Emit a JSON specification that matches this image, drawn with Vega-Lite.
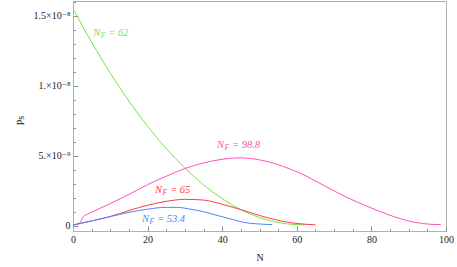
{
  "$schema": "https://vega.github.io/schema/vega-lite/v6.json",
  "width": 373,
  "height": 230,
  "autosize": "none",
  "padding": {"left": 73, "top": 1, "right": 11, "bottom": 36},
  "background": "white",
  "config": {
    "view": {"stroke": "#b0b0b0", "strokeWidth": 1},
    "axis": {
      "labelFont": "Liberation Serif, Times New Roman, DejaVu Serif, serif",
      "titleFont": "Liberation Serif, Times New Roman, DejaVu Serif, serif",
      "labelFontSize": 10,
      "titleFontSize": 10,
      "titleFontWeight": "normal",
      "labelColor": "#222222",
      "titleColor": "#222222",
      "domainColor": "#b0b0b0",
      "tickColor": "#909090",
      "grid": false
    }
  },
  "datasets": {
    "curves": [
      {"N": 0, "Ps": 1.55e-8, "s": "g"},
      {"N": 2.5, "Ps": 1.428e-8, "s": "g"},
      {"N": 5, "Ps": 1.31e-8, "s": "g"},
      {"N": 7.5, "Ps": 1.198e-8, "s": "g"},
      {"N": 10, "Ps": 1.09e-8, "s": "g"},
      {"N": 12.5, "Ps": 9.88e-9, "s": "g"},
      {"N": 15, "Ps": 8.91e-9, "s": "g"},
      {"N": 17.5, "Ps": 7.98e-9, "s": "g"},
      {"N": 20, "Ps": 7.11e-9, "s": "g"},
      {"N": 22.5, "Ps": 6.29e-9, "s": "g"},
      {"N": 25, "Ps": 5.52e-9, "s": "g"},
      {"N": 27.5, "Ps": 4.8e-9, "s": "g"},
      {"N": 30, "Ps": 4.13e-9, "s": "g"},
      {"N": 32.5, "Ps": 3.51e-9, "s": "g"},
      {"N": 35, "Ps": 2.94e-9, "s": "g"},
      {"N": 37.5, "Ps": 2.42e-9, "s": "g"},
      {"N": 40, "Ps": 1.95e-9, "s": "g"},
      {"N": 42.5, "Ps": 1.53e-9, "s": "g"},
      {"N": 45, "Ps": 1.17e-9, "s": "g"},
      {"N": 47.5, "Ps": 8.6e-10, "s": "g"},
      {"N": 50, "Ps": 6e-10, "s": "g"},
      {"N": 52.5, "Ps": 3.9e-10, "s": "g"},
      {"N": 55, "Ps": 2.5e-10, "s": "g"},
      {"N": 57.5, "Ps": 1.5e-10, "s": "g"},
      {"N": 60, "Ps": 1e-10, "s": "g"},
      {"N": 62, "Ps": 8e-11, "s": "g"},

      {"N": 0, "Ps": 7e-11, "s": "p"},
      {"N": 1.5, "Ps": 1.5e-10, "s": "p"},
      {"N": 2.2, "Ps": 4e-10, "s": "p"},
      {"N": 2.8, "Ps": 6.8e-10, "s": "p"},
      {"N": 4, "Ps": 8.5e-10, "s": "p"},
      {"N": 10, "Ps": 1.6e-9, "s": "p"},
      {"N": 15, "Ps": 2.25e-9, "s": "p"},
      {"N": 20, "Ps": 2.95e-9, "s": "p"},
      {"N": 25, "Ps": 3.55e-9, "s": "p"},
      {"N": 30, "Ps": 4.1e-9, "s": "p"},
      {"N": 35, "Ps": 4.5e-9, "s": "p"},
      {"N": 40, "Ps": 4.76e-9, "s": "p"},
      {"N": 44.5, "Ps": 4.86e-9, "s": "p"},
      {"N": 50, "Ps": 4.72e-9, "s": "p"},
      {"N": 55, "Ps": 4.38e-9, "s": "p"},
      {"N": 58, "Ps": 4.08e-9, "s": "p"},
      {"N": 61, "Ps": 3.76e-9, "s": "p"},
      {"N": 64, "Ps": 3.35e-9, "s": "p"},
      {"N": 67, "Ps": 2.93e-9, "s": "p"},
      {"N": 70, "Ps": 2.5e-9, "s": "p"},
      {"N": 73, "Ps": 2.1e-9, "s": "p"},
      {"N": 76, "Ps": 1.73e-9, "s": "p"},
      {"N": 80, "Ps": 1.28e-9, "s": "p"},
      {"N": 84, "Ps": 8.6e-10, "s": "p"},
      {"N": 88, "Ps": 5e-10, "s": "p"},
      {"N": 91, "Ps": 3e-10, "s": "p"},
      {"N": 94, "Ps": 1.7e-10, "s": "p"},
      {"N": 96, "Ps": 1.2e-10, "s": "p"},
      {"N": 98.6, "Ps": 1e-10, "s": "p"},

      {"N": 0, "Ps": 7e-11, "s": "r"},
      {"N": 5, "Ps": 3.6e-10, "s": "r"},
      {"N": 10, "Ps": 6.8e-10, "s": "r"},
      {"N": 15, "Ps": 1.1e-9, "s": "r"},
      {"N": 20, "Ps": 1.48e-9, "s": "r"},
      {"N": 25, "Ps": 1.76e-9, "s": "r"},
      {"N": 30, "Ps": 1.9e-9, "s": "r"},
      {"N": 35, "Ps": 1.85e-9, "s": "r"},
      {"N": 40, "Ps": 1.55e-9, "s": "r"},
      {"N": 44, "Ps": 1.25e-9, "s": "r"},
      {"N": 48, "Ps": 9.2e-10, "s": "r"},
      {"N": 52, "Ps": 6e-10, "s": "r"},
      {"N": 56, "Ps": 3.5e-10, "s": "r"},
      {"N": 60, "Ps": 1.8e-10, "s": "r"},
      {"N": 63, "Ps": 1.1e-10, "s": "r"},
      {"N": 65, "Ps": 8e-11, "s": "r"},

      {"N": 0, "Ps": 7e-11, "s": "b"},
      {"N": 5, "Ps": 3.6e-10, "s": "b"},
      {"N": 10, "Ps": 6.7e-10, "s": "b"},
      {"N": 15, "Ps": 9.7e-10, "s": "b"},
      {"N": 20, "Ps": 1.2e-9, "s": "b"},
      {"N": 25, "Ps": 1.33e-9, "s": "b"},
      {"N": 28, "Ps": 1.33e-9, "s": "b"},
      {"N": 31, "Ps": 1.22e-9, "s": "b"},
      {"N": 35, "Ps": 1.02e-9, "s": "b"},
      {"N": 38, "Ps": 8e-10, "s": "b"},
      {"N": 41.6, "Ps": 5.5e-10, "s": "b"},
      {"N": 44, "Ps": 3.8e-10, "s": "b"},
      {"N": 46, "Ps": 2.5e-10, "s": "b"},
      {"N": 49, "Ps": 1.6e-10, "s": "b"},
      {"N": 53.4, "Ps": 1e-10, "s": "b"}
    ],
    "labels": [
      {"N": 5.4, "Ps": 1.377e-8, "s": "g", "val": "= 62"},
      {"N": 38.6, "Ps": 5.78e-9, "s": "p", "val": "= 98.8"},
      {"N": 22, "Ps": 2.57e-9, "s": "r", "val": "= 65"},
      {"N": 18.5, "Ps": 5e-10, "s": "b", "val": "= 53.4"}
    ]
  },
  "resolve": {"axis": {"x": "independent", "y": "independent"}},
  "layer": [
    {
      "data": {"name": "curves"},
      "mark": {"type": "line", "strokeWidth": 1, "interpolate": "monotone", "clip": true},
      "encoding": {
        "x": {
          "field": "N", "type": "quantitative",
          "scale": {"domain": [0, 100], "nice": false, "zero": false},
          "axis": {"orient": "bottom", "values": [0, 20, 40, 60, 80, 100], "tickSize": -5, "labelPadding": 8, "title": "N", "titleY": 26, "titleBaseline": "middle", "labelFlush": false}
        },
        "y": {
          "field": "Ps", "type": "quantitative",
          "scale": {"domain": [-3.57e-10, 1.605e-8], "nice": false, "zero": false},
          "axis": {
            "orient": "left", "values": [0, 5e-9, 1e-8, 1.5e-8], "tickSize": -5, "labelPadding": 8,
            "labelExpr": "datum.value == 0 ? '0' : (datum.value < 7e-9 ? '5.×10⁻⁹' : (datum.value < 1.2e-8 ? '1.×10⁻⁸' : '1.5×10⁻⁸'))",
            "title": "Ps", "titleX": -53, "titleY": 119, "titleAngle": -90, "titleBaseline": "middle", "titleAlign": "center"
          }
        },
        "color": {
          "field": "s", "type": "nominal",
          "scale": {"domain": ["g", "p", "r", "b"], "range": ["#6ee83c", "#ff4fb8", "#ff3a48", "#4a86ff"]},
          "legend": null
        }
      }
    },
    {
      "data": {"name": "labels"},
      "mark": {"type": "text", "align": "left", "baseline": "middle", "font": "Liberation Serif, Times New Roman, DejaVu Serif, serif", "fontStyle": "italic", "fontSize": 10.5},
      "encoding": {
        "x": {
          "field": "N", "type": "quantitative",
          "axis": {"orient": "bottom", "values": [5, 10, 15, 25, 30, 35, 45, 50, 55, 65, 70, 75, 85, 90, 95], "tickSize": -2.5, "labels": false, "domain": false, "title": null}
        },
        "y": {
          "field": "Ps", "type": "quantitative",
          "axis": {"orient": "left", "values": [1e-9, 2e-9, 3e-9, 4e-9, 6e-9, 7e-9, 8e-9, 9e-9, 1.1e-8, 1.2e-8, 1.3e-8, 1.4e-8, 1.6e-8], "tickSize": -2.5, "labels": false, "domain": false, "title": null}
        },
        "color": {"field": "s", "type": "nominal", "legend": null},
        "text": {"value": "N"}
      }
    },
    {
      "data": {"name": "labels"},
      "mark": {"type": "text", "align": "left", "baseline": "middle", "font": "Liberation Serif, Times New Roman, DejaVu Serif, serif", "fontStyle": "italic", "fontSize": 7.5, "dx": 7.5, "dy": 3},
      "encoding": {
        "x": {"field": "N", "type": "quantitative", "axis": null},
        "y": {"field": "Ps", "type": "quantitative", "axis": null},
        "color": {"field": "s", "type": "nominal", "legend": null},
        "text": {"value": "F"}
      }
    },
    {
      "data": {"name": "labels"},
      "mark": {"type": "text", "align": "left", "baseline": "middle", "font": "Liberation Serif, Times New Roman, DejaVu Serif, serif", "fontStyle": "italic", "fontSize": 10.5, "dx": 15},
      "encoding": {
        "x": {"field": "N", "type": "quantitative", "axis": null},
        "y": {"field": "Ps", "type": "quantitative", "axis": null},
        "color": {"field": "s", "type": "nominal", "legend": null},
        "text": {"field": "val"}
      }
    }
  ]
}
